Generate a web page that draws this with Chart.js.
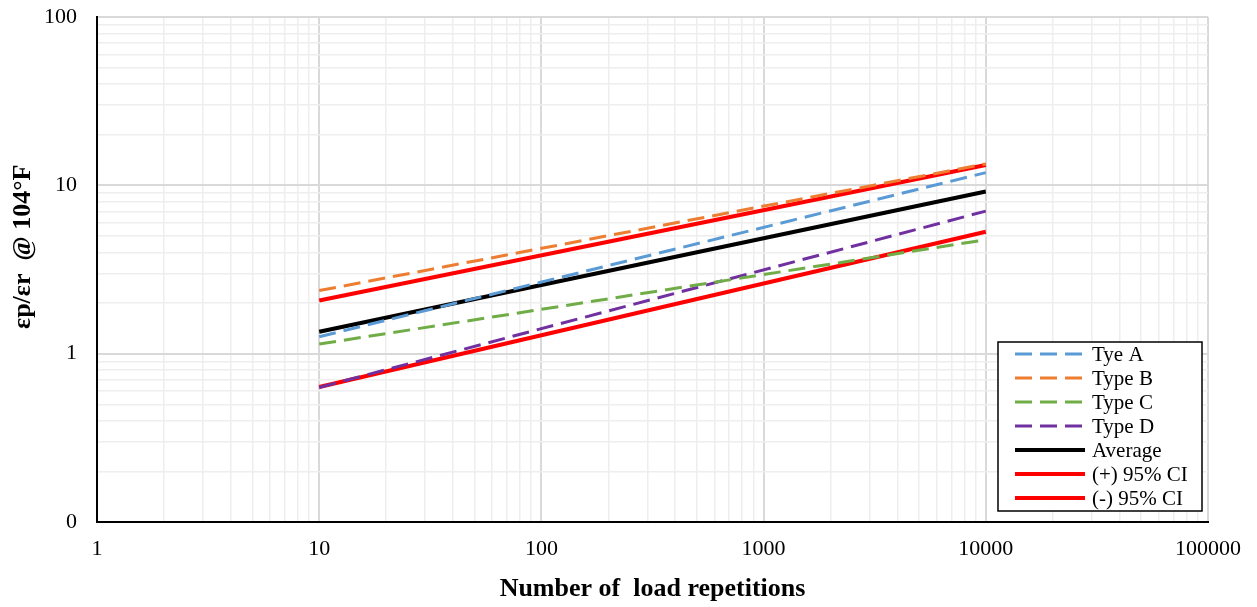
<!DOCTYPE html>
<html>
<head>
<meta charset="utf-8">
<script src="https://cdn.jsdelivr.net/npm/chart.js@4/dist/chart.umd.min.js"></script>
<style>
  html, body { margin: 0; padding: 0; background: #fff; }
  #wrap { width: 1257px; height: 607px; }
</style>
</head>
<body>
<div id="wrap"><canvas id="fatigueChart" width="1257" height="607"></canvas></div>
<script>
// load repetitions at the two ends of each fitted line
const repetitions = [10, 10000];

// εp/εr values
const typeA = [1.26, 11.9];
const typeB = [2.37, 13.4];
const typeC = [1.14, 4.75];
const typeD = [0.63, 7.03];
const average = [1.35, 9.2];
const ciUpper = [2.07, 13.2];
const ciLower = [0.634, 5.3];

const labels = ["Tye A", "Type B", "Type C", "Type D", "Average", "(+) 95% CI", "(-) 95% CI"];

// axis decades and the minor steps inside each decade
const xDecades = [1, 10, 100, 1000, 10000, 100000];
const yDecades = [0.1, 1, 10, 100];
const minorSteps = [2, 3, 4, 5, 6, 7, 8, 9];

const FONT = "'Liberation Serif', 'Times New Roman', serif";

function toPoints(ys) {
    return repetitions.map((x, i) => ({ x, y: ys[i] }));
}

function isDecade(v) {
    const l = Math.log10(v);
    return Math.abs(l - Math.round(l)) < 1e-9;
}

function logTicks(decades) {
    const ticks = [];
    decades.forEach((d, i) => {
        ticks.push({ value: d });
        if (i < decades.length - 1) minorSteps.forEach((m) => ticks.push({ value: d * m }));
    });
    return ticks;
}

const gridStyle = {
    drawTicks: false,
    color: (c) => (c.tick && isDecade(c.tick.value) ? "#d9d9d9" : "#eeeeee"),
    lineWidth: (c) => (c.tick && isDecade(c.tick.value) ? 2 : 1.5),
};

// legend box in the lower right corner of the plot
const boxLegend = {
    id: "boxLegend",
    afterDraw(chart) {
        const { ctx, chartArea } = chart;
        const w = 204, h = 169;
        const x0 = chartArea.right - 6 - w;
        const y0 = chartArea.bottom - 11 - h;
        ctx.save();
        ctx.fillStyle = "#fff";
        ctx.fillRect(x0, y0, w, h);
        ctx.strokeStyle = "#000";
        ctx.lineWidth = 1.5;
        ctx.strokeRect(x0, y0, w, h);
        ctx.font = "21px " + FONT;
        ctx.textBaseline = "middle";
        chart.data.datasets.forEach((ds, i) => {
            const cy = y0 + 12 + i * 24;
            ctx.beginPath();
            ctx.strokeStyle = ds.borderColor;
            ctx.lineWidth = ds.borderWidth;
            ctx.setLineDash(ds.borderDash || []);
            ctx.moveTo(x0 + 17, cy);
            ctx.lineTo(x0 + 87, cy);
            ctx.stroke();
            ctx.setLineDash([]);
            ctx.fillStyle = "#000";
            ctx.fillText(ds.label, x0 + 94, cy + 1);
        });
        ctx.restore();
    },
};

const series = [
    { data: typeA, color: "#5B9BD5", dash: [17, 8], width: 3 },
    { data: typeB, color: "#ED7D31", dash: [17, 8], width: 3 },
    { data: typeC, color: "#70AD47", dash: [17, 8], width: 3 },
    { data: typeD, color: "#7030A0", dash: [17, 8], width: 3 },
    { data: average, color: "#000000", dash: [], width: 4 },
    { data: ciUpper, color: "#FF0000", dash: [], width: 4 },
    { data: ciLower, color: "#FF0000", dash: [], width: 4 },
];

new Chart(document.getElementById("fatigueChart").getContext("2d"), {
    type: "line",
    data: {
        datasets: series.map((s, i) => ({
            label: labels[i],
            data: toPoints(s.data),
            borderColor: s.color,
            borderDash: s.dash,
            borderWidth: s.width,
            pointRadius: 0,
            fill: false,
            tension: 0,
        })),
    },
    options: {
        responsive: false,
        animation: false,
        layout: { padding: { top: 17, right: 49, left: 0, bottom: 0 } },
        plugins: { legend: { display: false }, tooltip: { enabled: false } },
        scales: {
            x: {
                type: "logarithmic",
                min: 1,
                max: 100000,
                afterBuildTicks: (scale) => { scale.ticks = logTicks(xDecades); },
                afterFit: (scale) => {
                    scale.height = 85;
                    scale.paddingLeft = 0;
                    scale.paddingRight = 0;
                },
                border: { color: "#000", width: 2 },
                grid: gridStyle,
                ticks: {
                    autoSkip: false,
                    maxRotation: 0,
                    padding: 14,
                    color: "#000",
                    font: { family: FONT, size: 22 },
                    callback: (v) => (isDecade(v) ? String(Math.round(v)) : ""),
                },
                title: {
                    display: true,
                    text: "Number of  load repetitions",
                    color: "#000",
                    font: { family: FONT, size: 26, weight: "bold" },
                    padding: { top: 10, bottom: 2 },
                },
            },
            y: {
                type: "logarithmic",
                min: 0.1,
                max: 100,
                afterBuildTicks: (scale) => { scale.ticks = logTicks(yDecades); },
                afterFit: (scale) => {
                    scale.width = 97;
                    scale.paddingTop = 0;
                    scale.paddingBottom = 0;
                },
                border: { color: "#000", width: 2 },
                grid: gridStyle,
                ticks: {
                    autoSkip: false,
                    padding: 20,
                    color: "#000",
                    font: { family: FONT, size: 22 },
                    callback: (v) => {
                        if (!isDecade(v)) return "";
                        return v < 1 ? "0" : String(Math.round(v));
                    },
                },
                title: {
                    display: true,
                    text: "       εp/εr  @ 104°F",
                    color: "#000",
                    font: { family: FONT, size: 26, weight: "bold" },
                    padding: { top: 8, bottom: 4 },
                },
            },
        },
    },
    plugins: [boxLegend],
});
</script>
</body>
</html>
